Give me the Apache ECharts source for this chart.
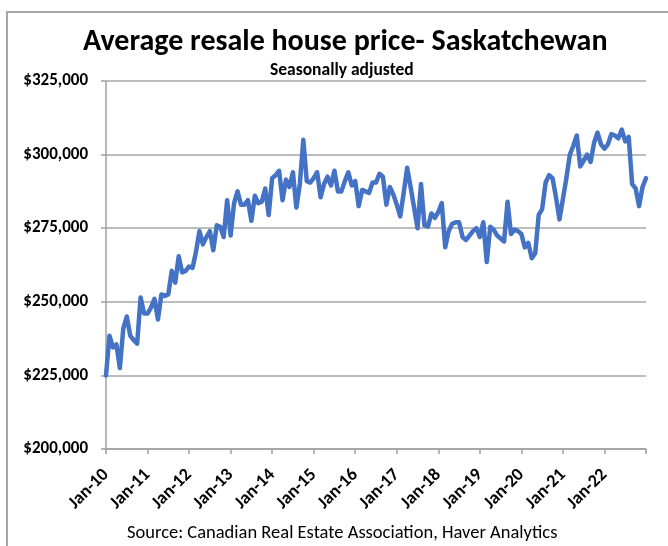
<!DOCTYPE html>
<html>
<head>
<meta charset="utf-8">
<script src="https://cdn.jsdelivr.net/npm/echarts@6/dist/echarts.min.js"></script>
<style>
  html, body { margin: 0; padding: 0; background: #fff; }
  #chart1 { width: 668px; height: 546px; }
</style>
</head>
<body>
<div id="chart1"></div>
<script>
// average resale price, monthly, seasonally adjusted ($ thousands)
const y2010 = [225, 238.5, 234.5, 235.5, 227.5, 241, 245, 238.5, 237, 235.8, 251.5, 246];
const y2011 = [246, 248, 251, 244, 252.5, 252, 252.5, 260.5, 256.5, 265.5, 260, 260.5];
const y2012 = [262, 261.5, 267, 274, 269.5, 272, 274, 267.5, 276, 275.5, 272, 284.5];
const y2013 = [272.5, 283.5, 287.5, 283, 283, 284.5, 277.5, 286, 283.5, 284, 288.5, 279.5];
const y2014 = [292, 293, 294.5, 284.5, 291.5, 289, 294, 282, 290, 305, 291, 290.5];
const y2015 = [292, 294, 285.5, 290, 292.5, 289.5, 294.5, 287.5, 287.5, 291, 294, 289.5];
const y2016 = [291, 282.5, 288, 287.5, 287, 290.5, 290.5, 293.5, 292.5, 283, 289, 286.5];
const y2017 = [283, 279, 287, 295.5, 289, 282, 275, 290, 276, 275.5, 280, 278.5];
const y2018 = [280.5, 283.5, 268.5, 274, 276.5, 277, 277, 272, 271, 272.5, 274, 275];
const y2019 = [272, 277, 263.5, 275.5, 274.5, 272.5, 271.5, 270.5, 284, 273, 274.5, 274];
const y2020 = [273, 268.5, 270, 264.8, 266.5, 279.5, 281.5, 290.5, 293, 292, 285.5, 278];
const y2021 = [285, 292, 300, 303, 306.5, 296, 298, 300, 297.5, 304, 307.5, 303.5];
const y2022 = [302, 303.5, 307, 306.5, 305.5, 308.5, 304.5, 306, 290, 288.5, 282.5, 289];
const y2023 = [292];

const monthNames = ['Jan', 'Feb', 'Mar', 'Apr', 'May', 'Jun', 'Jul', 'Aug', 'Sep', 'Oct', 'Nov', 'Dec'];
const years = [2010, 2011, 2012, 2013, 2014, 2015, 2016, 2017, 2018, 2019, 2020, 2021, 2022, 2023];
const yearData = [y2010, y2011, y2012, y2013, y2014, y2015, y2016, y2017, y2018, y2019, y2020, y2021, y2022, y2023];

let categories = [];
let prices = [];
yearData.forEach(function (arr, i) {
    arr.forEach(function (v, m) {
        categories.push(monthNames[m] + '-' + String(years[i]).slice(2));
        prices.push(v * 1000);
    });
});

const font = 'Carlito, Lato, sans-serif';

let chart1 = echarts.init(document.getElementById('chart1'));
chart1.setOption({
    backgroundColor: '#fff',
    textStyle: { fontFamily: font },
    title: [
        {
            text: 'Average resale house price- Saskatchewan',
            left: 78,
            top: 22,
            textStyle: { fontSize: 30, fontWeight: 'bold', color: '#000', fontFamily: font }
        },
        {
            text: 'Seasonally adjusted',
            left: 265,
            top: 57,
            textStyle: { fontSize: 17.5, fontWeight: 'bold', color: '#000', fontFamily: font }
        },
        {
            text: 'Source: Canadian Real Estate Association, Haver Analytics',
            left: 122,
            top: 519,
            textStyle: { fontSize: 18.5, fontWeight: 'normal', color: '#000', fontFamily: font }
        }
    ],
    graphic: [
        {
            type: 'rect',
            shape: { x: 7, y: 12, width: 700, height: 600 },
            style: { fill: 'none', stroke: '#a6a6a6', lineWidth: 2 },
            silent: true
        }
    ],
    grid: { left: 106, right: 22, top: 81, bottom: 97 },
    xAxis: {
        type: 'category',
        data: categories,
        boundaryGap: false,
        axisLine: { lineStyle: { color: '#a0a0a0', width: 1.5 } },
        axisTick: { show: true, interval: 11, length: 5, lineStyle: { color: '#a0a0a0', width: 1.5 } },
        axisLabel: {
            interval: 11,
            rotate: 45,
            margin: 23,
            fontSize: 18,
            fontWeight: 'bold',
            color: '#000',
            formatter: function (v) { return v === 'Jan-23' ? '' : v; }
        },
        splitLine: { show: false }
    },
    yAxis: {
        type: 'value',
        min: 200000,
        max: 325000,
        interval: 25000,
        axisLine: { show: true, lineStyle: { color: '#a0a0a0', width: 1.5 } },
        axisTick: { show: true, length: 5, lineStyle: { color: '#a0a0a0', width: 1.5 } },
        axisLabel: {
            margin: 18,
            fontSize: 17,
            fontWeight: 'bold',
            color: '#000',
            formatter: function (v) { return '$' + v.toLocaleString('en-US'); }
        },
        splitLine: { lineStyle: { color: '#a6a6a6', width: 1.5 } }
    },
    series: [
        {
            name: 'Average resale price',
            type: 'line',
            data: prices,
            showSymbol: false,
            smooth: false,
            lineStyle: { color: '#4472c4', width: 4.5, join: 'round', cap: 'round' },
            itemStyle: { color: '#4472c4' }
        }
    ]
});
</script>
</body>
</html>
